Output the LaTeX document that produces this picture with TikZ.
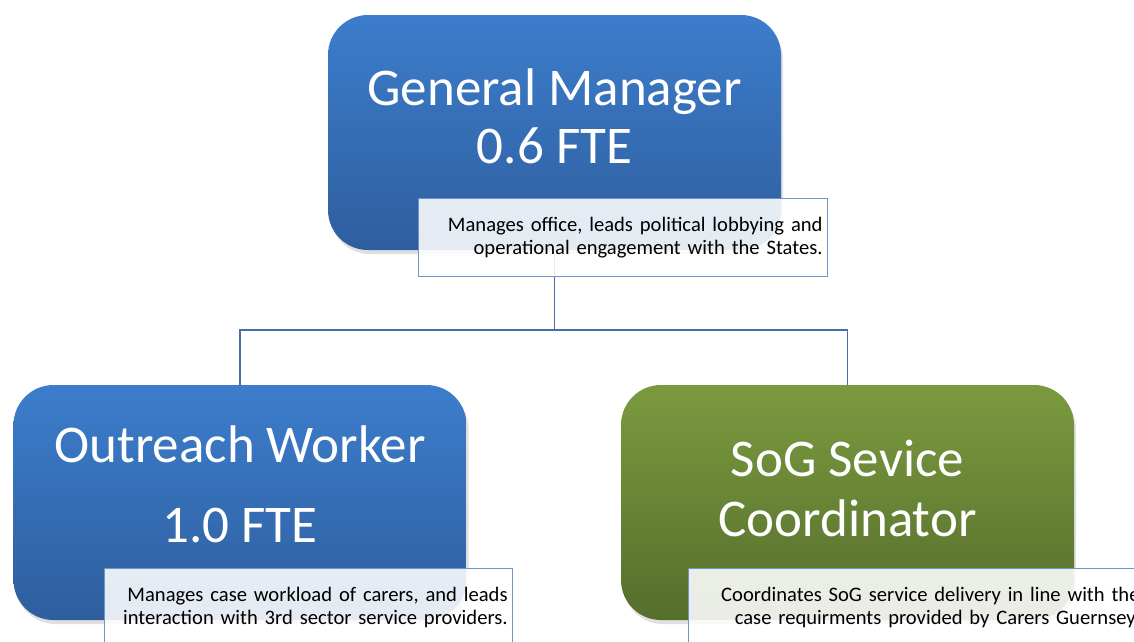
\documentclass[tikz,border=0pt]{standalone}
\usepackage{fontspec}
\setmainfont{Carlito}
\usepackage{tikz}
\usetikzlibrary{positioning,shadows}

\definecolor{bluetop}{HTML}{3C7DCC}
\definecolor{bluebot}{HTML}{2F5E9E}
\definecolor{greentop}{HTML}{7B9A3F}
\definecolor{greenbot}{HTML}{556E2C}
\definecolor{noteedge}{HTML}{6F95C8}
\definecolor{linkblue}{HTML}{4470A8}

\begin{document}
\begin{tikzpicture}[
    x=1pt,
    y=-1pt,
    font=\fontsize{20.6}{23.5}\selectfont,
    post/.style={
		rectangle,
		rounded corners=40pt,
		minimum width=453pt,
		minimum height=235pt,
		drop shadow={opacity=0.25, shadow xshift=2pt, shadow yshift=-4pt}
	},
	bluepost/.style={
		post,
		top color=bluetop,
		bottom color=bluebot
	},
	greenpost/.style={
		post,
		top color=greentop,
		bottom color=greenbot
	},
	title/.style={
		text=white,
		align=center,
		inner sep=0pt
	},
	note/.style={
		rectangle,
		draw=noteedge,
		line width=1.2pt,
		fill=white,
		fill opacity=0.88,
		text opacity=1,
		align=right,
		inner xsep=5pt,
		minimum height=78pt,
		anchor=north west
	},
	link/.style={
		draw=linkblue,
		line width=1.6pt
	}
  ]

 \useasboundingbox (0,0) rectangle (1134,641);
 \clip (0,0) rectangle (1134,641);

 % // posts
 \node [bluepost] (gm) at (554.5,132.5) {};
 \node [bluepost] (ow) at (240,502.5) {};
 \node [greenpost] (sog) at (847.5,502.5) {};

 \node [title, font=\fontsize{53}{58}\selectfont] (gmtitle) at (554.5,116) {General Manager\\0.6 FTE};
 \node [title, font=\fontsize{53}{80}\selectfont] (owtitle) at (240,484.5) {Outreach Worker\\1.0 FTE};
 \node [title, font=\fontsize{53}{60}\selectfont] (sogtitle) at (847.5,488.5) {SoG Sevice\\Coordinator};

 % // connectors
 \draw [link] (gm.south) -- ++(0,80) -| (ow.north);
 \draw [link] (gm.south) -- ++(0,80) -| (sog.north);

 % // notes
 \node [note, text width=399pt] (gmnote) at (418,198) 
 {Manages office, leads political lobbying and\\operational engagement with the States.};
 \node [note, text width=398pt] (ownote) at (104,568) 
 {Manages case workload of carers, and leads\\interaction with 3rd sector service providers.};
 \node [note, text width=446pt] (sognote) at (688,568) 
 {Coordinates SoG service delivery in line with the\\case requirments provided by Carers Guernsey.};

\end{tikzpicture}
\end{document}
